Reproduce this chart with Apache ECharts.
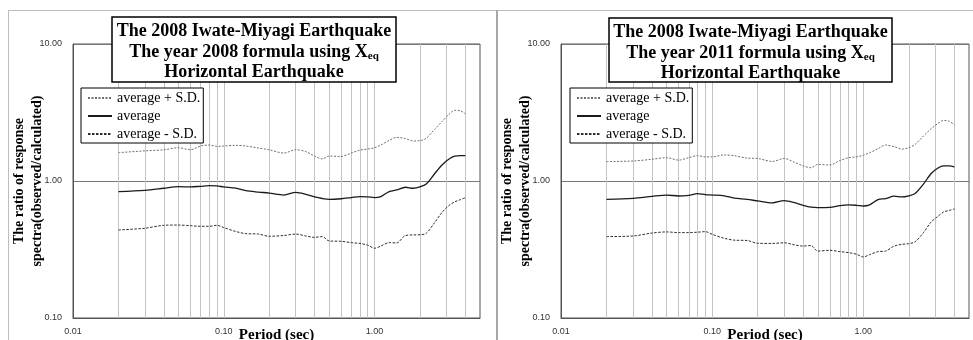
<!DOCTYPE html>
<html>
<head>
<meta charset="utf-8">
<script src="https://cdn.jsdelivr.net/npm/echarts@6/dist/echarts.min.js"></script>
<style>
  html, body { margin: 0; padding: 0; background: #fff; }
  #c { width: 973px; height: 340px; }
</style>
</head>
<body>
<div id="c"></div>
<script>
// Periods (sec) at which the response-spectrum ratios are sampled
const periods = [0.02, 0.03, 0.04, 0.05, 0.06, 0.07, 0.08, 0.09, 0.10, 0.12, 0.14, 0.17, 0.20, 0.25,
  0.30, 0.35, 0.40, 0.45, 0.50, 0.60, 0.70, 0.80, 0.90, 1.00, 1.10, 1.25, 1.40, 1.60, 1.80, 2.00,
  2.20, 2.50, 2.80, 3.10, 3.40, 3.70, 4.00];

// 2008 formula
const avgPlus2008 = [1.61, 1.66, 1.69, 1.75, 1.69, 1.80, 1.83, 1.79, 1.80, 1.82, 1.80, 1.74, 1.69, 1.60,
  1.69, 1.64, 1.52, 1.45, 1.52, 1.51, 1.60, 1.68, 1.71, 1.75, 1.83, 1.98, 2.08, 2.04, 1.96, 1.97,
  2.05, 2.38, 2.72, 3.05, 3.28, 3.25, 3.10];
const avg2008 = [0.837, 0.855, 0.885, 0.91, 0.905, 0.915, 0.925, 0.92, 0.905, 0.887, 0.85, 0.83, 0.817, 0.79,
  0.827, 0.80, 0.765, 0.745, 0.735, 0.742, 0.757, 0.77, 0.765, 0.757, 0.77, 0.837, 0.86, 0.90, 0.885, 0.905,
  0.95, 1.13, 1.31, 1.44, 1.52, 1.53, 1.53];
const avgMinus2008 = [0.439, 0.452, 0.475, 0.477, 0.472, 0.467, 0.467, 0.475, 0.457, 0.428, 0.413, 0.41, 0.395, 0.40,
  0.41, 0.397, 0.388, 0.393, 0.365, 0.363, 0.355, 0.35, 0.34, 0.323, 0.335, 0.355, 0.353, 0.40, 0.404, 0.405,
  0.415, 0.497, 0.59, 0.66, 0.705, 0.73, 0.756];

// 2011 formula
const avgPlus2011 = [1.386, 1.40, 1.44, 1.48, 1.42, 1.48, 1.53, 1.50, 1.50, 1.55, 1.53, 1.47, 1.46, 1.39,
  1.46, 1.37, 1.29, 1.25, 1.32, 1.31, 1.41, 1.48, 1.50, 1.54, 1.61, 1.72, 1.83, 1.78, 1.71, 1.75,
  1.85, 2.13, 2.40, 2.62, 2.77, 2.73, 2.56];
const avg2011 = [0.735, 0.748, 0.773, 0.79, 0.777, 0.786, 0.809, 0.796, 0.79, 0.78, 0.75, 0.735, 0.715, 0.692,
  0.72, 0.695, 0.665, 0.645, 0.64, 0.642, 0.661, 0.67, 0.665, 0.657, 0.67, 0.731, 0.744, 0.775, 0.765, 0.78,
  0.81, 0.95, 1.13, 1.24, 1.29, 1.29, 1.27];
const avgMinus2011 = [0.393, 0.397, 0.417, 0.425, 0.42, 0.42, 0.423, 0.427, 0.408, 0.382, 0.37, 0.368, 0.351, 0.35,
  0.354, 0.342, 0.335, 0.338, 0.308, 0.312, 0.305, 0.30, 0.292, 0.279, 0.29, 0.305, 0.308, 0.335, 0.345, 0.349,
  0.36, 0.42, 0.50, 0.55, 0.595, 0.61, 0.625];

// Vertical grid positions on the period axis
const periodGrid = [0.02, 0.03, 0.04, 0.05, 0.06, 0.07, 0.08, 0.09, 0.1, 0.2, 0.3, 0.4, 0.5, 0.6, 0.7, 0.8, 0.9, 1, 2, 3, 4];

const seriesNames = ['average + S.D.', 'average', 'average - S.D.'];
const titleLines2008 = ['The 2008 Iwate-Miyagi Earthquake', 'The year 2008 formula using X', 'Horizontal Earthquake'];
const titleLines2011 = ['The 2008 Iwate-Miyagi Earthquake', 'The year 2011 formula using X', 'Horizontal Earthquake'];
const yTitle = 'The ratio of response\nspectra(observed/calculated)';
const xTitle = 'Period (sec)';

const SERIF = "'Liberation Serif', 'Times New Roman', serif";
const SANS = "'Liberation Sans', Arial, sans-serif";

const chart = echarts.init(document.getElementById('c'), null, { renderer: 'canvas' });

const pair = arr => periods.map((p, i) => [p, arr[i]]);

const lineStyles = [
  { color: '#6e6e6e', width: 1, type: [2, 1.5] },
  { color: '#1a1a1a', width: 1.3, type: 'solid' },
  { color: '#2e2e2e', width: 1, type: [2.5, 1.5] }
];

function makeSeries(gridIdx, dataSets) {
  const out = dataSets.map((d, k) => ({
    name: seriesNames[k],
    type: 'line',
    xAxisIndex: gridIdx,
    yAxisIndex: gridIdx,
    data: pair(d),
    symbol: 'none',
    smooth: 0.3,
    z: 3,
    lineStyle: lineStyles[k],
    itemStyle: { color: lineStyles[k].color },
    silent: true
  }));
  // carrier for the light vertical gridlines
  out.push({
    type: 'line',
    xAxisIndex: gridIdx,
    yAxisIndex: gridIdx,
    data: [],
    silent: true,
    z: 1,
    markLine: {
      silent: true,
      symbol: 'none',
      z: 1,
      label: { show: false },
      lineStyle: { color: '#c4c4c4', width: 1, type: 'solid' },
      data: periodGrid.map(v => ({ xAxis: v }))
    }
  });
  return out;
}

function xAxisFor(gridIdx) {
  return {
    type: 'log', logBase: 10, min: 0.01, max: 5, gridIndex: gridIdx,
    name: xTitle, nameLocation: 'middle', nameGap: 10, nameMoveOverlap: false,
    nameTextStyle: { fontFamily: SERIF, fontWeight: 'bold', fontSize: 15, color: '#000', verticalAlign: 'top' },
    axisLine: { lineStyle: { color: '#555', width: 1 } },
    axisTick: { show: false },
    splitLine: { show: false },
    axisLabel: {
      fontFamily: SANS, fontSize: 9, color: '#333', margin: 9, showMaxLabel: false,
      formatter: v => Number(v).toFixed(2)
    }
  };
}

function yAxisFor(gridIdx) {
  return {
    type: 'log', logBase: 10, min: 0.1, max: 10, gridIndex: gridIdx,
    name: yTitle, nameLocation: 'middle', nameGap: 27, nameRotate: 90, nameMoveOverlap: false,
    nameTextStyle: { fontFamily: SERIF, fontWeight: 'bold', fontSize: 14, color: '#000', lineHeight: 18 },
    axisLine: { lineStyle: { color: '#555', width: 1 } },
    axisTick: { show: false },
    splitLine: { show: true, lineStyle: { color: '#777', width: 1 } },
    axisLabel: {
      fontFamily: SANS, fontSize: 9, color: '#333', margin: 11,
      formatter: v => Number(v).toFixed(2)
    }
  };
}

function legendFor(left) {
  return {
    orient: 'vertical', left: left, top: 88,
    data: seriesNames,
    padding: [3, 3, 2, 6], itemGap: 4, itemWidth: 24, itemHeight: 14,
    backgroundColor: '#fff', borderColor: '#000', borderWidth: 1,
    selectedMode: false, z: 10,
    itemStyle: { opacity: 0 },
    textStyle: { fontFamily: SERIF, fontSize: 14, color: '#000', padding: [0, 0, 0, 0] }
  };
}

function titleBox(x, y, w, h, lines) {
  const cx = x + w / 2;
  const richSub = {
    n: { fontFamily: SERIF, fontWeight: 'bold', fontSize: 18, color: '#000' },
    s: { fontFamily: SERIF, fontWeight: 'bold', fontSize: 11, color: '#000', padding: [9, 0, 0, 0] }
  };
  return [
    { type: 'rect', shape: { x: x, y: y, width: w, height: h }, style: { fill: '#fff', stroke: '#000', lineWidth: 1.5 }, z: 20 },
    { type: 'text', x: cx, y: y + 14, z: 21, style: { text: lines[0], align: 'center', verticalAlign: 'middle', font: "bold 18px " + SERIF, fill: '#000' } },
    { type: 'text', x: cx, y: y + 35, z: 21, style: { text: '{n|' + lines[1] + '}{s|eq}', rich: richSub, align: 'center', verticalAlign: 'middle' } },
    { type: 'text', x: cx, y: y + 55, z: 21, style: { text: lines[2], align: 'center', verticalAlign: 'middle', font: "bold 18px " + SERIF, fill: '#000' } }
  ];
}

const frame = [
  { type: 'line', shape: { x1: 8, y1: 10.5, x2: 973, y2: 10.5 }, style: { stroke: '#bdbdbd', lineWidth: 1 }, z: 0 },
  { type: 'line', shape: { x1: 8.5, y1: 10, x2: 8.5, y2: 340 }, style: { stroke: '#bdbdbd', lineWidth: 1 }, z: 0 },
  { type: 'line', shape: { x1: 497, y1: 10, x2: 497, y2: 340 }, style: { stroke: '#a8a8a8', lineWidth: 2 }, z: 0 }
];

const option = {
  animation: false,
  backgroundColor: '#fff',
  grid: [
    { left: 73, top: 44, width: 407, height: 274, show: true, borderColor: '#555', borderWidth: 1,
      backgroundColor: 'transparent', outerBoundsMode: 'none', containLabel: false },
    { left: 561, top: 44, width: 408, height: 274, show: true, borderColor: '#555', borderWidth: 1,
      backgroundColor: 'transparent', outerBoundsMode: 'none', containLabel: false }
  ],
  xAxis: [xAxisFor(0), xAxisFor(1)],
  yAxis: [yAxisFor(0), yAxisFor(1)],
  legend: [legendFor(81), legendFor(570)],
  series: [
    ...makeSeries(0, [avgPlus2008, avg2008, avgMinus2008]),
    ...makeSeries(1, [avgPlus2011, avg2011, avgMinus2011])
  ],
  graphic: [
    ...frame,
    ...titleBox(112, 17, 284, 65, titleLines2008),
    ...titleBox(609, 18, 283, 64, titleLines2011)
  ]
};

chart.setOption(option);
</script>
</body>
</html>
